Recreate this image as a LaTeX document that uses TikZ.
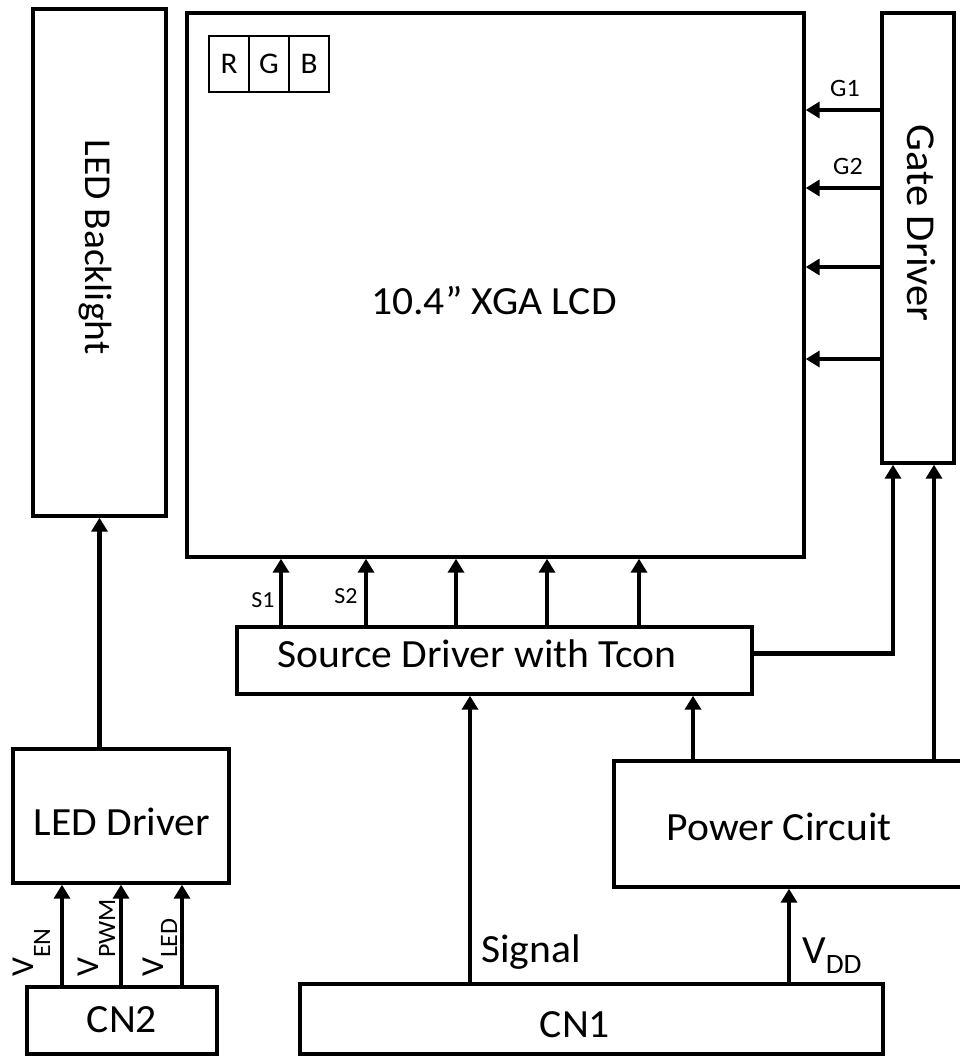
\documentclass[tikz,border=0pt]{standalone}
\usepackage{fontspec}
\setmainfont{Carlito}[FakeStretch=1.04]
\usetikzlibrary{arrows.meta,calc}
\begin{document}
\begin{tikzpicture}[x=1pt,y=-1pt,
  box/.style={draw, line width=3.4pt, inner sep=0pt},
  cell/.style={draw, line width=1.2pt, inner sep=0pt, minimum width=40pt, minimum height=56pt, font=\fontsize{30}{36}\selectfont},
  conn/.style={line width=4.5pt},
  arr/.style={conn, -{Triangle[length=14pt,width=16pt]}},
  big/.style={inner sep=0pt, font=\fontsize{40}{48}\selectfont},
  slab/.style={inner sep=0pt, font=\fontsize{23}{28}\selectfont},
  glab/.style={inner sep=0pt, font=\fontsize{25}{30}\selectfont},
  vlab/.style={inner sep=0pt, font=\fontsize{32}{38}\selectfont, rotate=90, anchor=base west}]
\useasboundingbox (0,0) rectangle (959,1056);
% boxes
\node[box, minimum width=133pt, minimum height=507pt] (bl) at (99.5,262.5) {};
\node[box, minimum width=617pt, minimum height=544pt] (lcd) at (495.5,285) {};
\node[box, minimum width=72pt, minimum height=450pt] (gate) at (918,238) {};
\node[box, minimum width=515pt, minimum height=67pt] (src) at (494.5,660.5) {};
\node[box, minimum width=216pt, minimum height=134pt] (drv) at (121,816) {};
\node[box, minimum width=190pt, minimum height=67pt] (cn2) at (122,1020.5) {};
\node[box, minimum width=348pt, minimum height=126pt] (pw) at (788,824) {};
\node[box, minimum width=583pt, minimum height=70pt] (cn1) at (591.5,1019) {};
% RGB cells
\node[cell] (cr) at (229,64) {R};
\node[cell] (cg) at (269,64) {G};
\node[cell] (cb) at (309,64) {B};
% texts
\node[big, anchor=base] (tlcd) at (494,314) {10.4” XGA LCD};
\node[big, anchor=base, rotate=-90, font=\fontsize{38}{46}\selectfont] (tbl) at (85,247) {LED Backlight};
\node[big, anchor=base, rotate=-90, font=\fontsize{41}{48}\selectfont] (tgate) at (907,223) {Gate Driver};
\node[big, anchor=base] (tsrc) at (477,667) {Source Driver with Tcon};
\node[big, anchor=base] (tdrv) at (122,835) {LED Driver};
\node[big, anchor=base] (tcn2) at (122,1032) {CN2};
\node[big, anchor=base] (tpw) at (779,840) {Power Circuit};
\node[big, anchor=base] (tcn1) at (575,1037) {CN1};
\node[big, anchor=base west] (tsig) at (481,962) {Signal};
\node[big, anchor=base west] (tvdd) at (802,963) {V\raisebox{-10pt}{\fontsize{28}{28}\selectfont DD}};
\node[slab, anchor=base] (ts1) at (263,607) {S1};
\node[slab, anchor=base] (ts2) at (346,603) {S2};
\node[glab, anchor=base] (tg1) at (845,97) {G1};
\node[glab, anchor=base] (tg2) at (848,175) {G2};
\node[vlab] (ven) at (33,977) {V\raisebox{-17pt}{\fontsize{25}{25}\selectfont EN}};
\node[vlab] (vpwm) at (98,977) {V\raisebox{-17pt}{\fontsize{25}{25}\selectfont PWM}};
\node[vlab] (vled) at (163,977) {V\raisebox{-14pt}{\fontsize{25}{25}\selectfont LED}};
% x positions of connectors
\coordinate (xen) at (62,0);
\coordinate (xpwm) at (121,0);
\coordinate (xled) at (182,0);
\coordinate (xs1) at (281,0);
\coordinate (xs2) at (366,0);
\coordinate (xs3) at (456,0);
\coordinate (xs4) at (547,0);
\coordinate (xs5) at (639,0);
\coordinate (xsig) at (470,0);
\coordinate (xvdd) at (789,0);
\coordinate (xpws) at (693,0);
\coordinate (xgs) at (893,0);
\coordinate (xgp) at (934,0);
\coordinate (yg1) at (0,110);
\coordinate (yg2) at (0,188);
\coordinate (yg3) at (0,267);
\coordinate (yg4) at (0,359);
% connectors
\draw[arr] (cn2.north -| xen) -- (drv.south -| xen);
\draw[arr] (cn2.north -| xpwm) -- (drv.south -| xpwm);
\draw[arr] (cn2.north -| xled) -- (drv.south -| xled);
\draw[arr] (drv.north -| bl.south) -- (bl.south);
\foreach \c in {xs1,xs2,xs3,xs4,xs5}
  \draw[arr] (src.north -| \c) -- (lcd.south -| \c);
\foreach \c in {yg1,yg2,yg3,yg4}
  \draw[arr] (gate.west |- \c) -- (lcd.east |- \c);
\draw[arr] (cn1.north -| xsig) -- (src.south -| xsig);
\draw[arr] (cn1.north -| xvdd) -- (pw.south -| xvdd);
\draw[arr] (pw.north -| xpws) -- (src.south -| xpws);
\draw[arr] (pw.north -| xgp) -- (gate.south -| xgp);
\draw[arr] ([yshift=7pt]src.east) -| (gate.south -| xgs);
\end{tikzpicture}
\end{document}
